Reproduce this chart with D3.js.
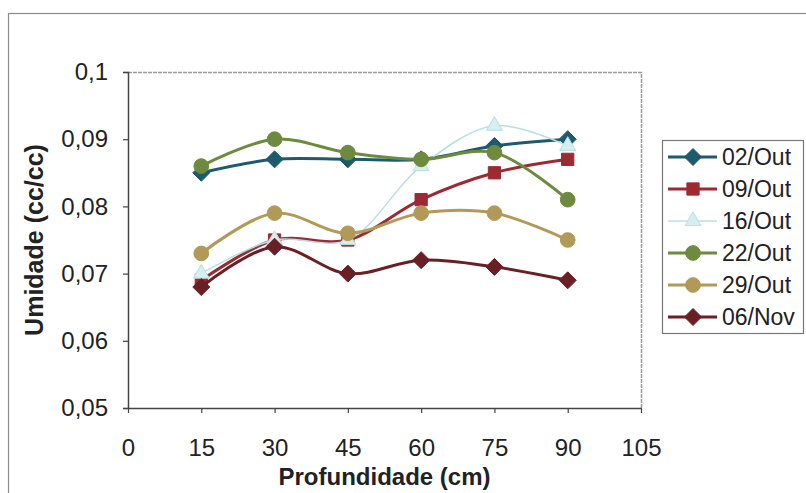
<!DOCTYPE html>
<html>
<head>
<meta charset="utf-8">
<script src="https://cdn.jsdelivr.net/npm/d3@7"></script>
<style>
  body { margin: 0; background: #fff; }
  svg { display: block; font-family: "Liberation Sans", Arial, sans-serif; }
</style>
</head>
<body>
<svg id="chart"></svg>
<script>
// Soil moisture by depth, six sampling dates (smoothed lines, Excel style).

const DEPTHS = [15, 30, 45, 60, 75, 90];
const X_TICKS = [0, 15, 30, 45, 60, 75, 90, 105];
const Y_TICKS = [0.05, 0.06, 0.07, 0.08, 0.09, 0.1];

const OUT_02 = [0.085, 0.087, 0.087, 0.087, 0.089, 0.090];
const OUT_09 = [0.069, 0.075, 0.075, 0.081, 0.085, 0.087];
const OUT_16 = [0.070, 0.075, 0.075, 0.086, 0.092, 0.089];
const OUT_22 = [0.086, 0.090, 0.088, 0.087, 0.088, 0.081];
const OUT_29 = [0.073, 0.079, 0.076, 0.079, 0.079, 0.075];
const NOV_06 = [0.068, 0.074, 0.070, 0.072, 0.071, 0.069];

const SERIES = [
  { name: "02/Out", values: OUT_02, color: "#1d5a6c", marker: "diamond", width: 3 },
  { name: "09/Out", values: OUT_09, color: "#9c2a32", marker: "square", width: 3 },
  { name: "16/Out", values: OUT_16, color: "#b9dfe3", marker: "triangle", width: 1.5 },
  { name: "22/Out", values: OUT_22, color: "#6e8a3e", marker: "circle", width: 3 },
  { name: "29/Out", values: OUT_29, color: "#b19a58", marker: "circle", width: 3 },
  { name: "06/Nov", values: NOV_06, color: "#6a1f25", marker: "diamond", width: 3 }
];

const W = 806, H = 493;
const P = { left: 128, right: 641, top: 72, bottom: 408 };

const svg = d3.select("#chart").attr("width", W).attr("height", H);

// outer chart frame
svg.append("rect")
  .attr("x", 8.5).attr("y", 13.5)
  .attr("width", W + 20).attr("height", H + 20)
  .attr("fill", "#fff").attr("stroke", "#8a8a8a").attr("stroke-width", 1.2);

const x = d3.scaleLinear().domain([0, 105]).range([P.left, P.right]);
const y = d3.scaleLinear().domain([0.05, 0.1]).range([P.bottom, P.top]);

// plot area frame (top/right light)
svg.append("path")
  .attr("d", `M${P.left},${P.top + 0.5}H${P.right + 0.5}V${P.bottom}`)
  .attr("fill", "none").attr("stroke", "#9a9a9a").attr("stroke-width", 1.5)
  .attr("stroke-dasharray", "4,1");

const fmt = v => d3.format(".2~f")(v).replace(".", ",");

// y axis
const yAxis = svg.append("g")
  .attr("transform", `translate(${P.left},0)`)
  .call(d3.axisLeft(y).tickValues(Y_TICKS).tickSize(5).tickPadding(15).tickFormat(fmt));
yAxis.select(".domain").attr("stroke", "#444").attr("stroke-width", 1.5);
yAxis.selectAll(".tick line").attr("stroke", "#444").attr("stroke-width", 1.2);
yAxis.selectAll("text").attr("font-size", 24).attr("fill", "#222")
  .attr("font-family", "Liberation Sans, Arial, sans-serif");

// x axis
const xAxis = svg.append("g")
  .attr("transform", `translate(0,${P.bottom})`)
  .call(d3.axisBottom(x).tickValues(X_TICKS).tickSize(5).tickSizeOuter(0).tickPadding(26).tickFormat(d3.format("d")));
xAxis.select(".domain").attr("stroke", "#444").attr("stroke-width", 1.5);
xAxis.selectAll(".tick line").attr("stroke", "#444").attr("stroke-width", 1.2);
xAxis.selectAll("text").attr("font-size", 24).attr("fill", "#222")
  .attr("font-family", "Liberation Sans, Arial, sans-serif");

// axis titles
svg.append("text")
  .attr("x", x(52.5)).attr("y", 485)
  .attr("text-anchor", "middle")
  .attr("font-size", 24).attr("font-weight", "bold").attr("fill", "#222")
  .text("Profundidade (cm)");

svg.append("text")
  .attr("transform", `translate(43,${(P.top + P.bottom) / 2}) rotate(-90)`)
  .attr("text-anchor", "middle")
  .attr("font-size", 25).attr("font-weight", "bold").attr("fill", "#222")
  .text("Umidade (cc/cc)");

// marker shapes (Excel-like: diamond is a square turned 45 degrees)
const SYM = {
  diamond: () => "M0,-8.5L8.5,0L0,8.5L-8.5,0Z",
  square: d3.symbol().type(d3.symbolSquare).size(150),
  triangle: d3.symbol().type(d3.symbolTriangle).size(110),
  circle: d3.symbol().type(d3.symbolCircle).size(170)
};

function drawMarker(g, s, cx, cy) {
  g.append("path")
    .attr("d", SYM[s.marker]())
    .attr("transform", `translate(${cx},${cy})`)
    .attr("fill", s.marker === "triangle" ? "#d6eef0" : s.color)
    .attr("stroke", s.color)
    .attr("stroke-width", 1);
}

const line = d3.line()
  .x((d, i) => x(DEPTHS[i]))
  .y(d => y(d))
  .curve(d3.curveCatmullRom.alpha(0.5));

SERIES.forEach(s => {
  const g = svg.append("g");
  g.append("path")
    .datum(s.values)
    .attr("fill", "none")
    .attr("stroke", s.color)
    .attr("stroke-width", s.width)
    .attr("stroke-linejoin", "round")
    .attr("d", line);
  s.values.forEach((v, i) => drawMarker(g, s, x(DEPTHS[i]), y(v)));
});

// legend
const L = { x: 662, y: 140, w: 141, h: 193, step: 32 };
svg.append("rect")
  .attr("x", L.x + 0.5).attr("y", L.y + 0.5)
  .attr("width", L.w).attr("height", L.h)
  .attr("fill", "#fff").attr("stroke", "#777").attr("stroke-width", 1.2);

SERIES.forEach((s, i) => {
  const cy = L.y + 17 + i * L.step;
  const g = svg.append("g");
  g.append("line")
    .attr("x1", L.x + 6).attr("x2", L.x + 55)
    .attr("y1", cy).attr("y2", cy)
    .attr("stroke", s.color).attr("stroke-width", s.width);
  drawMarker(g, s, L.x + 31, cy);
  g.append("text")
    .attr("x", L.x + 60).attr("y", cy).attr("dy", "0.36em")
    .attr("font-size", 23).attr("fill", "#222")
    .text(s.name);
});
</script>
</body>
</html>
